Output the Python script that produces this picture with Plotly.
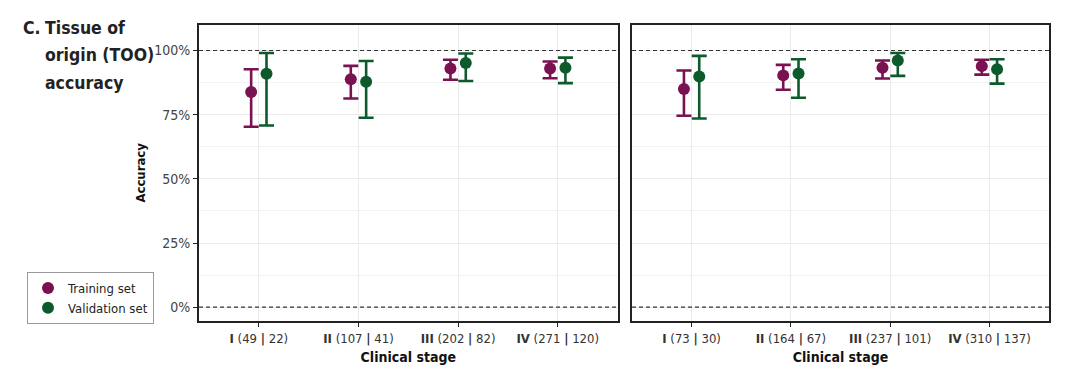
import plotly.graph_objects as go

# ---- data ----
stages = ["I", "II", "III", "IV"]
n_train_left = [49, 107, 202, 271]
n_valid_left = [22, 41, 82, 120]
n_train_right = [73, 164, 237, 310]
n_valid_right = [30, 67, 101, 137]

train_left = [83.8, 88.8, 93.0, 93.0]
train_left_lo = [70.3, 81.3, 88.6, 89.2]
train_left_hi = [92.7, 94.0, 96.4, 95.7]
valid_left = [90.9, 87.8, 95.1, 93.3]
valid_left_lo = [70.8, 73.8, 88.1, 87.3]
valid_left_hi = [99.0, 95.9, 98.8, 97.2]

train_right = [85.0, 90.3, 93.3, 93.9]
train_right_lo = [74.6, 84.7, 89.1, 90.6]
train_right_hi = [92.2, 94.4, 96.1, 96.4]
valid_right = [89.9, 91.0, 96.1, 92.7]
valid_right_lo = [73.5, 81.6, 90.1, 87.1]
valid_right_hi = [97.9, 96.6, 99.0, 96.6]

y_ticks = [0, 25, 50, 75, 100]
y_tick_labels = ["0%", "25%", "50%", "75%", "100%"]

title_lines = ["Tissue of", "origin (TOO)", "accuracy"]

TRAIN_COLOR = "#7a1150"
VALID_COLOR = "#0d5a2d"
FONT = "DejaVu Sans Condensed, Roboto, sans-serif"
DODGE = 0.077

fig = go.Figure()


def add_series(xaxis, yaxis, vals, lo, hi, color, name, offset, show):
    xs = [i + 1 + offset for i in range(len(vals))]
    fig.add_trace(go.Scatter(
        x=xs, y=vals, mode="markers", name=name, showlegend=show,
        legendgroup=name, xaxis=xaxis, yaxis=yaxis,
        marker=dict(size=12, color=color),
        error_y=dict(type="data", symmetric=False,
                     array=[h - v for h, v in zip(hi, vals)],
                     arrayminus=[v - l for v, l in zip(vals, lo)],
                     color=color, thickness=2.6, width=7.5),
    ))


add_series("x", "y", train_left, train_left_lo, train_left_hi, TRAIN_COLOR, "Training set", -DODGE, True)
add_series("x", "y", valid_left, valid_left_lo, valid_left_hi, VALID_COLOR, "Validation set", DODGE, True)
add_series("x2", "y2", train_right, train_right_lo, train_right_hi, TRAIN_COLOR, "Training set", -DODGE, False)
add_series("x2", "y2", valid_right, valid_right_lo, valid_right_hi, VALID_COLOR, "Validation set", DODGE, False)


def ticktexts(st, a, b):
    return [f"<b>{s}</b> ({x} <b>|</b> {y})" for s, x, y in zip(st, a, b)]


yr = [-5.4, 110.1]
xr = [0.4, 4.6]
common_x = dict(range=xr, tickvals=[1, 2, 3, 4], showgrid=True, gridcolor="#ebebeb",
                gridwidth=1, showline=True, linecolor="#222222", linewidth=2.2, mirror=True,
                ticks="outside", ticklen=4, tickcolor="#222222", zeroline=False,
                tickfont=dict(family=FONT, size=13, color="#333333"),
                title=dict(text="<b>Clinical stage</b>", font=dict(family=FONT, size=14, color="#111111"),
                           standoff=7))
common_y = dict(range=yr, tickvals=y_ticks, showgrid=True, gridcolor="#ebebeb", gridwidth=1,
                showline=True, linecolor="#222222", linewidth=2.2, mirror=True, zeroline=False,
                minor=dict(dtick=12.5, tick0=0, showgrid=True, gridcolor="#f3f3f3", gridwidth=1),
                tickfont=dict(family=FONT, size=14, color="#444444"))

fig.update_layout(
    width=1080, height=372,
    margin=dict(l=0, r=0, t=0, b=0),
    paper_bgcolor="white", plot_bgcolor="white",
    font=dict(family=FONT),
    xaxis=dict(domain=[0.1843, 0.5718], ticktext=ticktexts(stages, n_train_left, n_valid_left), **common_x),
    xaxis2=dict(domain=[0.5852, 0.9713], anchor="y2",
                ticktext=ticktexts(stages, n_train_right, n_valid_right), **common_x),
    yaxis=dict(domain=[0.137, 0.934], ticktext=y_tick_labels, ticks="outside", ticklen=4,
               tickcolor="#222222",
               title=dict(text="<b>Accuracy</b>", font=dict(family=FONT, size=13, color="#111111"),
                          standoff=6), **common_y),
    yaxis2=dict(domain=[0.137, 0.934], anchor="x2", showticklabels=False, ticks="", **common_y),
    legend=dict(x=27 / 1080, y=1 - 272 / 372, xanchor="left", yanchor="top",
                bordercolor="#999999", borderwidth=1, bgcolor="white",
                font=dict(family=FONT, size=13, color="#222222"),
                itemsizing="constant", tracegroupgap=0, itemwidth=30),
    showlegend=True,
)

for xref in ["x domain", "x2 domain"]:
    yref = "y" if xref == "x domain" else "y2"
    for yv in [0, 100]:
        fig.add_shape(type="line", xref=xref, yref=yref, x0=0, x1=1, y0=yv, y1=yv,
                      line=dict(color="#333333", width=1.2, dash="4px,3px"), layer="above")

TITLE_FONT = dict(family=FONT, size=17.5, color="#222222")
fig.add_annotation(xref="paper", yref="paper", x=21 / 1080, y=1 - 27.5 / 372, xanchor="left", yanchor="middle",
                   text="<b>C.</b>", showarrow=False, font=TITLE_FONT)
for i, line in enumerate(title_lines):
    fig.add_annotation(xref="paper", yref="paper", x=43 / 1080, y=1 - (27.5 + 27.5 * i) / 372,
                       xanchor="left", yanchor="middle", align="left", text=f"<b>{line}</b>",
                       showarrow=False, font=TITLE_FONT)

fig.write_html("out.html", post_script="document.body.style.margin='0';",
               config={"displayModeBar": False})
